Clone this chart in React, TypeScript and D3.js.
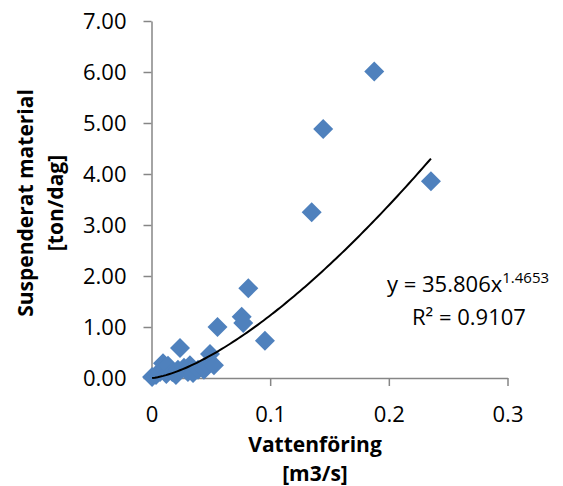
import React, { useEffect, useRef } from "react";
import * as d3 from "d3";

// discharge (m3/s) and suspended load (ton/dag)
const flowValues = [
  0.0005, 0.0038, 0.0072, 0.0097, 0.0105, 0.0125, 0.0139, 0.0175, 0.0206, 0.0223,
  0.024, 0.0274, 0.0307, 0.0324, 0.035, 0.0392, 0.0442, 0.0467, 0.0493, 0.0526,
  0.0556, 0.076, 0.0773, 0.0816, 0.0956, 0.135, 0.1447, 0.1877, 0.2355,
];
const loadValues = [
  0.02, 0.06, 0.12, 0.29, 0.16, 0.08, 0.24, 0.12, 0.06, 0.16,
  0.59, 0.2, 0.12, 0.25, 0.1, 0.16, 0.16, 0.27, 0.47, 0.25,
  1.0, 1.2, 1.08, 1.76, 0.73, 3.25, 4.88, 6.01, 3.86,
];

const xTicks = [0, 0.1, 0.2, 0.3];
const xTickLabels = ["0", "0.1", "0.2", "0.3"];
const yTicks = [0, 1, 2, 3, 4, 5, 6, 7];

// power trendline shown in the chart
const trendCoef = 35.806;
const trendExp = 1.4653;
const trendLabel = "y = 35.806x";
const trendExpLabel = "1.4653";
const r2Label = "0.9107";

const xTitle = ["Vattenföring", "[m3/s]"];
const yTitle = ["Suspenderat material", "[ton/dag]"];

export default function App() {
  const svgRef = useRef<SVGSVGElement>(null);

  useEffect(() => {
    if (!svgRef.current) return;
    const width = 563;
    const height = 486;
    const font = "'Open Sans', 'DejaVu Sans', sans-serif";
    const axisColor = "#868686";
    const blue = "#4F81BD";

    const svg = d3.select(svgRef.current);
    svg.selectAll("*").remove();
    svg.attr("width", width).attr("height", height).attr("viewBox", `0 0 ${width} ${height}`);

    const x = d3.scaleLinear().domain([0, 0.3]).range([151.5, 507.5]);
    const y = d3.scaleLinear().domain([0, 7]).range([378, 21]);

    const yAxis = svg
      .append("g")
      .attr("transform", `translate(${x(0)},0)`)
      .call(
        d3
          .axisLeft(y)
          .tickValues(yTicks)
          .tickFormat((d) => d3.format(".2f")(d as number))
          .tickSize(8)
          .tickSizeOuter(0)
          .tickPadding(17)
      );

    const xAxis = svg
      .append("g")
      .attr("transform", `translate(0,${y(0)})`)
      .call(
        d3
          .axisBottom(x)
          .tickValues(xTicks)
          .tickFormat((d, i) => xTickLabels[i])
          .tickSize(8)
          .tickSizeOuter(0)
          .tickPadding(20)
      );

    [yAxis, xAxis].forEach((g) => {
      g.select(".domain").attr("stroke", axisColor).attr("stroke-width", 1.5);
      g.selectAll(".tick line").attr("stroke", axisColor).attr("stroke-width", 1.5);
      g.selectAll(".tick text")
        .attr("fill", "#000")
        .attr("font-family", font)
        .attr("font-size", "22px");
    });

    // markers
    const diamond = d3.symbol(d3.symbolSquare, 200);
    svg
      .append("g")
      .selectAll("path")
      .data(flowValues.map((v, i) => [v, loadValues[i]]))
      .join("path")
      .attr("d", diamond)
      .attr("transform", (d) => `translate(${x(d[0])},${y(d[1])}) rotate(45)`)
      .attr("fill", blue);

    // trendline over the markers
    const xMin = d3.min(flowValues) as number;
    const xMax = d3.max(flowValues) as number;
    const trend = d3.range(0, 101).map((i) => {
      const v = xMin + ((xMax - xMin) * i) / 100;
      return [v, trendCoef * Math.pow(v, trendExp)];
    });
    svg
      .append("path")
      .datum(trend)
      .attr("fill", "none")
      .attr("stroke", "#000")
      .attr("stroke-width", 2)
      .attr(
        "d",
        d3
          .line<number[]>()
          .x((d) => x(d[0]))
          .y((d) => y(d[1]))
      );

    // equation
    const eq = svg
      .append("text")
      .attr("x", 387)
      .attr("y", 292)
      .attr("font-family", font)
      .attr("font-size", "22px");
    eq.append("tspan").text(trendLabel);
    eq.append("tspan").attr("font-size", "15px").attr("dy", -9).text(trendExpLabel);
    svg
      .append("text")
      .attr("x", 412)
      .attr("y", 325)
      .attr("font-family", font)
      .attr("font-size", "22px")
      .text(`R² = ${r2Label}`);

    // axis titles
    svg
      .append("g")
      .selectAll("text")
      .data(xTitle)
      .join("text")
      .attr("x", 315)
      .attr("y", (d, i) => 452 + i * 29)
      .attr("text-anchor", "middle")
      .attr("font-family", font)
      .attr("font-weight", "bold")
      .attr("font-size", "21px")
      .text((d) => d);

    svg
      .append("g")
      .selectAll("text")
      .data(yTitle)
      .join("text")
      .attr("transform", (d, i) => `translate(${33 + i * 30},203) rotate(-90)`)
      .attr("text-anchor", "middle")
      .attr("font-family", font)
      .attr("font-weight", "bold")
      .attr("font-size", "21px")
      .text((d) => d);
  }, []);

  return (
    <svg
      ref={svgRef}
      style={{ position: "absolute", left: 0, top: 0, background: "#fff" }}
    />
  );
}
